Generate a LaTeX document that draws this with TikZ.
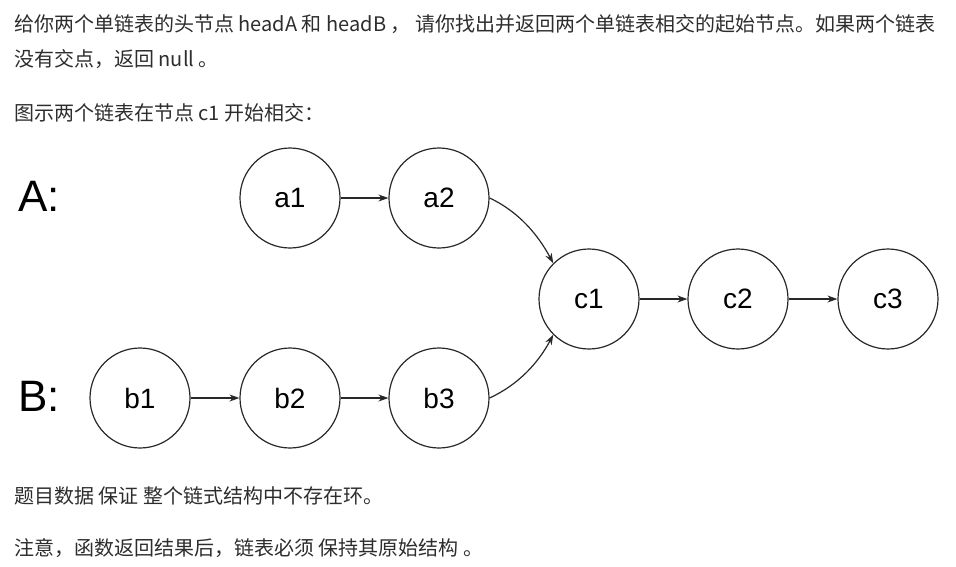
\documentclass[tikz,border=0pt]{standalone}
\usepackage{fontspec}
\setmainfont{Liberation Sans}
\newfontfamily\cjk{Noto Sans CJK SC}
\usetikzlibrary{arrows.meta}
\definecolor{node_gray}{RGB}{40,40,40}
\definecolor{text_gray}{RGB}{45,45,45}

\begin{document}
\begin{tikzpicture}[->,semithick,>={Stealth[length=10pt,width=7pt]},x=1pt,y=1pt]
    \tikzstyle{node}=[draw=node_gray, circle, minimum size=100pt, inner sep=0pt, line width=1.2pt, fill=none, text=black, font=\fontsize{28}{30}\selectfont]
    \tikzstyle{lbl}=[text=black, font=\fontsize{44}{48}\selectfont]
    \tikzstyle{para}=[anchor=base west, inner sep=0pt, text=text_gray, font=\cjk\fontsize{20}{24}\selectfont]
    \tikzstyle{link}=[line width=1.2pt, draw=node_gray]

    \useasboundingbox (0,0) rectangle (956,-566);

    % text above and below the lists
    \node[para] (t1) at (14,-31.5) {给你两个单链表的头节点 headA 和 headB ， 请你找出并返回两个单链表相交的起始节点。如果两个链表};
    \node[para] (t2) at (14,-66.5) {没有交点，返回 null 。};
    \node[para] (t3) at (14,-120)  {图示两个链表在节点 c1 开始相交：};
    \node[para] (t4) at (14,-503)  {题目数据 保证 整个链式结构中不存在环。};
    \node[para] (t5) at (14,-555)  {注意，函数返回结果后，链表必须 保持其原始结构 。};

    \node[lbl] (la) at (39,-196) {A:};
    \node[lbl] (lb) at (39,-396) {B:};

    \node[node] (a1) at (290,-198) {a1};
    \node[node] (a2) at (439,-198) {a2};
    \node[node] (b1) at (140,-398) {b1};
    \node[node] (b2) at (290,-398) {b2};
    \node[node] (b3) at (439,-398) {b3};
    \node[node] (c1) at (589,-299) {c1};
    \node[node] (c2) at (738,-299) {c2};
    \node[node] (c3) at (888,-299) {c3};

    \path[link]
     (a1) edge (a2)
     (b1) edge (b2)
     (b2) edge (b3)
     (c1) edge (c2)
     (c2) edge (c3)
     ;
    \draw[link] (a2.east) .. controls +(-25:32) and +(118:32) .. (c1.135);
    \draw[link] (b3.east) .. controls +(25:32) and +(-118:32) .. (c1.225);
\end{tikzpicture}
\end{document}
